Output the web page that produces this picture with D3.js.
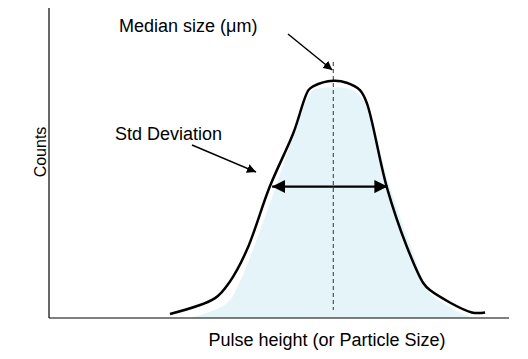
<!DOCTYPE html>
<html><head><meta charset="utf-8">
<script src="https://cdn.jsdelivr.net/npm/d3@7"></script>
<style>body{margin:0;background:#fff}svg{display:block}text{font-family:Arial,"Liberation Sans",sans-serif;fill:#000}</style>
</head><body><svg id="c" width="528" height="359"></svg>
<script>
// Pulse height (arbitrary 0-100) vs counts (arbitrary 0-100)
const curveX = [26.3,36.1,39.3,43.0,48.0,53.1,56.4,57.5,61.8,64.7,67.6,69.1,73.4,77.8,81.4,82.8,91.9,94.8];
const curveY = [1.3,6.4,11.7,21.9,42.4,59.6,73.5,74.8,76.5,75.9,73.5,69.3,42.4,23.0,11.2,9.0,1.8,1.8];
const fillX = [30.7,38.6,41.5,48.8,56.7,57.8,65.4,68.3,74.1,79.2,82.8,91.9];
const fillY = [0,4.7,11.7,40.2,72.5,73.8,73.8,70.3,42.4,20.9,8.0,0];
const medianX = 61.8;
const stdLeft = 48.5, stdRight = 73.6, stdY = 42.4;
const labels = {x:"Pulse height (or Particle Size)", y:"Counts", median:"Median size (\u03bcm)", std:"Std Deviation"};

const svg = d3.select("#c");
const x = d3.scaleLinear().domain([0,100]).range([49,509]);
const y = d3.scaleLinear().domain([0,100]).range([318,8]);

const defs = svg.append("defs");
defs.append("marker").attr("id","ah").attr("viewBox","0 0 10 10").attr("refX",10).attr("refY",5)
  .attr("markerWidth",6).attr("markerHeight",6).attr("markerUnits","strokeWidth").attr("orient","auto-start-reverse")
  .append("path").attr("d","M0,0 L10,5 L0,10 z").attr("fill","#000");

const fillPts = fillX.map((v,i)=>[v,fillY[i]]);
svg.append("path").datum(fillPts)
  .attr("d", d3.area().x(d=>x(d[0])).y0(y(0)).y1(d=>y(d[1])).curve(d3.curveCatmullRom.alpha(0.5)))
  .attr("fill","#e5f4f8");

// axes (no ticks)
svg.append("line").attr("x1",x(0)).attr("x2",x(0)).attr("y1",y(100)).attr("y2",y(0)).attr("stroke","#000").attr("stroke-width",1.2);
svg.append("line").attr("x1",x(0)).attr("x2",x(100)).attr("y1",y(0)).attr("y2",y(0)).attr("stroke","#000").attr("stroke-width",1.2);

// median dashed line
svg.append("line").attr("x1",x(medianX)).attr("x2",x(medianX)).attr("y1",62).attr("y2",310)
  .attr("stroke","#000").attr("stroke-width",0.8).attr("stroke-dasharray","4,3");

const pts = curveX.map((v,i)=>[v,curveY[i]]);
svg.append("path").datum(pts)
  .attr("d", d3.line().x(d=>x(d[0])).y(d=>y(d[1])).curve(d3.curveCatmullRom.alpha(0.5)))
  .attr("fill","none").attr("stroke","#000").attr("stroke-width",2.5).attr("stroke-linejoin","round");

// std deviation double arrow
svg.append("line").attr("x1",x(stdLeft)).attr("x2",x(stdRight)).attr("y1",y(stdY)).attr("y2",y(stdY))
  .attr("stroke","#000").attr("stroke-width",2.2).attr("marker-start","url(#ah)").attr("marker-end","url(#ah)");

// annotation arrows
svg.append("line").attr("x1",288).attr("y1",34).attr("x2",x(medianX)-1).attr("y2",70)
  .attr("stroke","#000").attr("stroke-width",1.5).attr("marker-end","url(#ah)");
svg.append("line").attr("x1",192).attr("y1",145).attr("x2",256).attr("y2",172)
  .attr("stroke","#000").attr("stroke-width",1.5).attr("marker-end","url(#ah)");

svg.append("text").attr("x",119).attr("y",32).attr("font-size",18).text(labels.median);
svg.append("text").attr("x",115).attr("y",140).attr("font-size",18).text(labels.std);
svg.append("text").attr("x",327).attr("y",346).attr("text-anchor","middle").attr("font-size",18).text(labels.x);
svg.append("text").attr("transform","translate(46,152) rotate(-90)").attr("text-anchor","middle").attr("font-size",16).text(labels.y);
</script></body></html>
